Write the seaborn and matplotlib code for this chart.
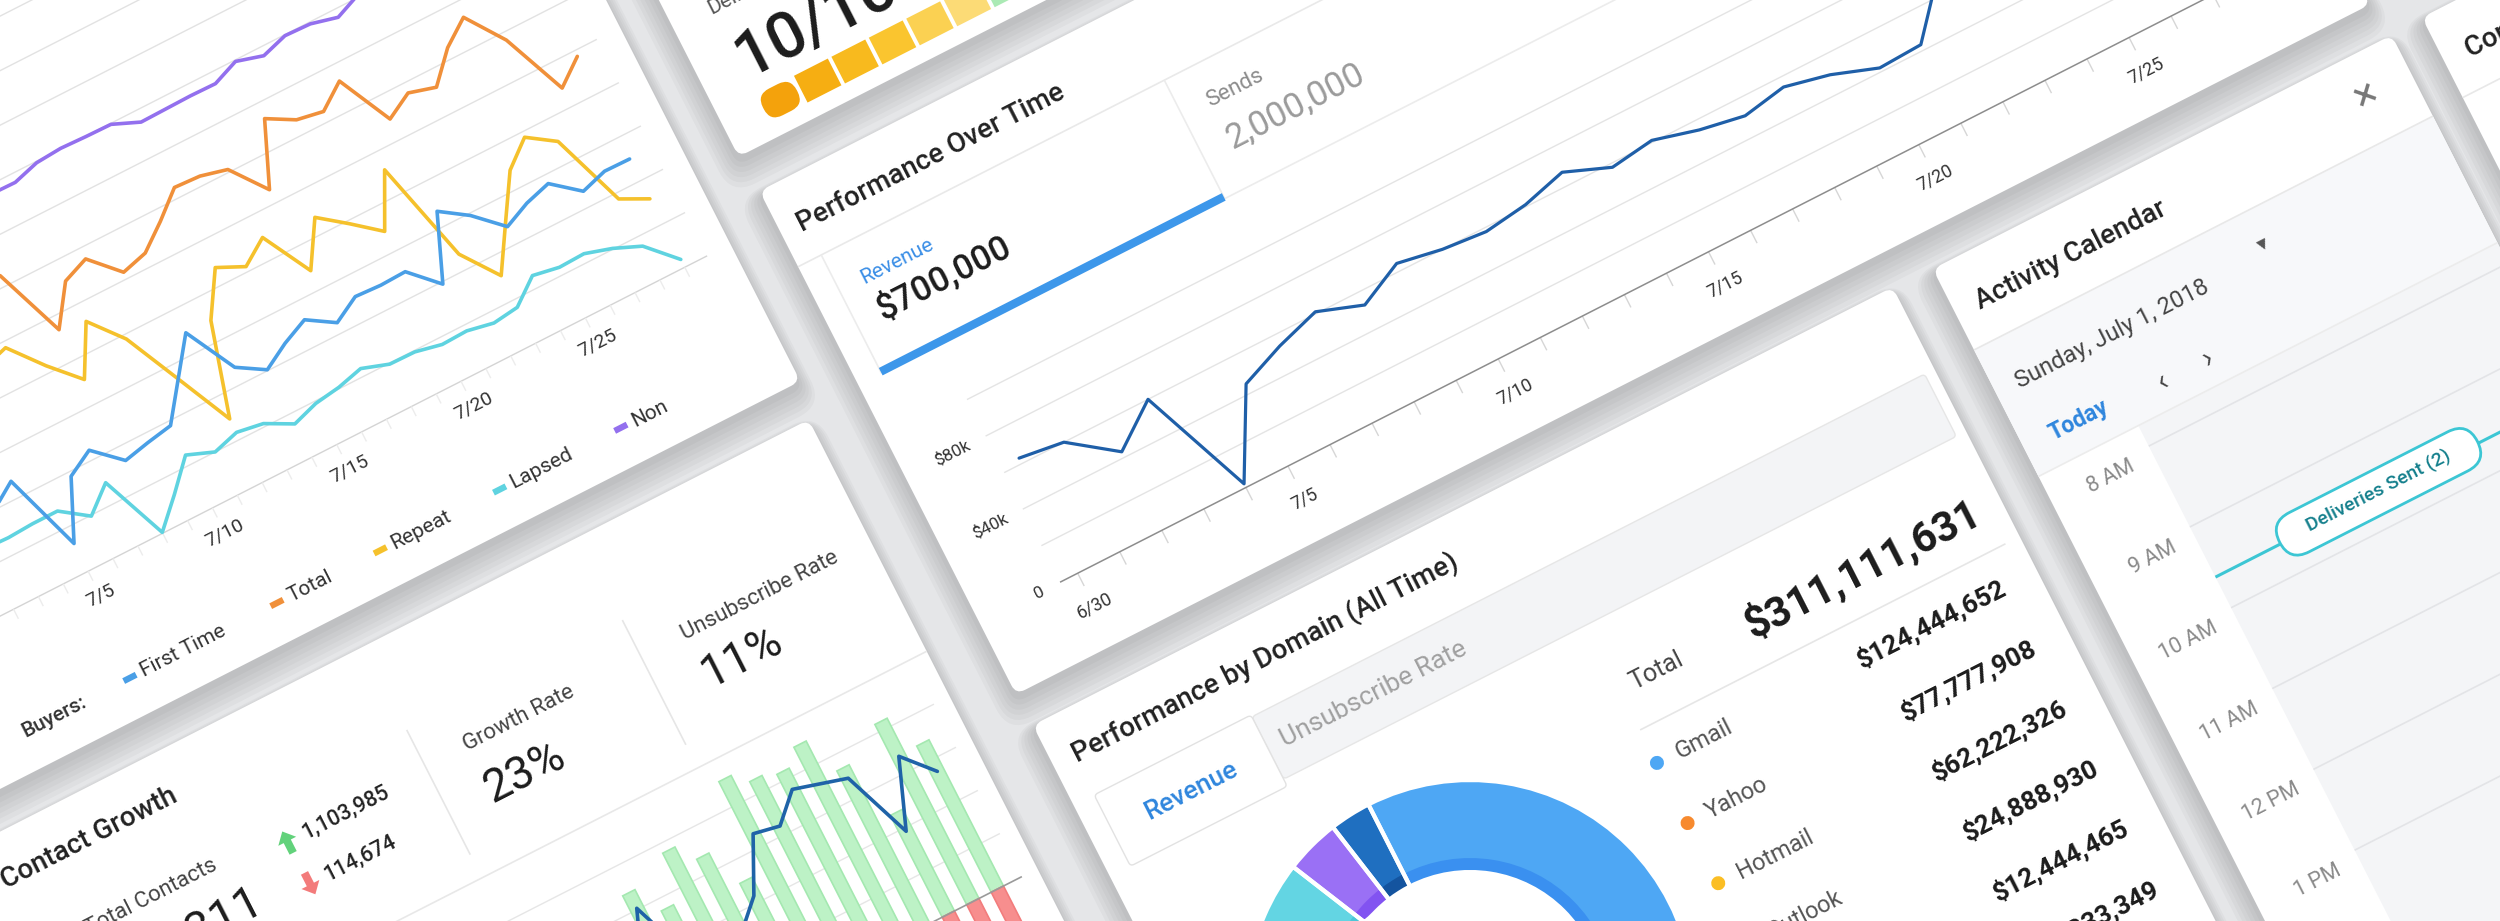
import numpy as np
import pandas as pd
import matplotlib
matplotlib.use("Agg")
import matplotlib.pyplot as plt
import seaborn as sns
from matplotlib.transforms import Affine2D
from matplotlib.patches import FancyBboxPatch, Rectangle, Polygon, Circle

# ---------------- data ----------------
buyer_days = list(range(30))          # 0 = 6/30 ... 29 = 7/29
buyers_first_time = [210, 180, 230, 200, 237, 64, 190, 221, 168, 180, 190, 268, 346, 237, 202,
                     234, 259, 223, 254, 251, 253, 195, 334, 295, 240, 265, 281, 234, 251, 250]
buyers_total = [560, 600, 540, 590, 620, 580, 650, 624, 470, 553, 575, 515, 530, 574, 623,
                620, 606, 530, 665, 633, 623, 664, 547, 578, 562, 624, 665, 583, 443, 487]
buyers_repeat = [380, 420, 360, 440, 400, 470, 487, 416, 355, 460, 390, 269, 147, 345, 438,
                 411, 449, 343, 437, 393, 346, 459, 235, 156, 249, 341, 388, 349, 187, 158]
buyers_lapsed = [120, 130, 138, 136, 139, 139, 98, 146, 2, 60, 122, 100, 116, 107, 77,
                 95, 103, 117, 98, 97, 85, 87, 76, 83, 127, 117, 119, 102, 78, 18]
buyers_non = [790, 785, 795, 800, 788, 792, 786, 790, 782, 781, 797, 801, 799, 798, 774,
              775, 776, 775, 797, 781, 798, 796, 782, 805, 815, 820, 830, 835, 840, 845]
buyer_ticks = [5, 10, 15, 20, 25]
buyer_tick_labels = ["7/5", "7/10", "7/15", "7/20", "7/25"]
buyer_segments = ["First Time", "Total", "Repeat", "Lapsed", "Non"]
buyer_colors = ["#4a9fe6", "#f0903a", "#f5c12c", "#5fd3e0", "#9370ee"]

growth_idx = list(range(-19, 13))
growth_added = [260, 300, 240, 320, 280, 310, 250, 290, 330, 270, 300, 240, 310, 280, 260, 300,
                250, 280, 250, 339, 275, 380, 337, 252, 459, 430, 418, 452, 368, 236, 418, 339]
growth_removed = [-80, -60, -100, -70, -90, -110, -60, -80, -120, -70, -90, -60, -100, -80, -70, -110,
                  -90, -60, -80, -70, -100, -90, -60, -80, -110, -70, -90, -100, -80, -90, -120, -100]
growth_net = [150, 180, 140, 200, 170, 190, 150, 160, 210, 170, 180, 140, 190, 160, 150, 180,
              140, 170, 160, 303, 150, 120, 160, 216, 331, 320, 376, 360, 344, 192, 337, 273]

perf_days = list(range(29))           # 0 = 6/30
perf_revenue = [63, 60, 43, 60, 2, 45, 54, 61, 53, 64, 60, 58, 61, 67, 58, 61, 55, 51, 55, 50,
                42, 43, 70, 76, 80, 85, 88, 92, 96]      # $k
perf_ticks = [0, 5, 10, 15, 20, 25]
perf_tick_labels = ["6/30", "7/5", "7/10", "7/15", "7/20", "7/25"]
perf_yticks = [0, 40, 80]
perf_ytick_labels = ["0", "$40k", "$80k"]

domain_names = ["Gmail", "Yahoo", "Hotmail", "Outlook", "AOL", "Other"]
domain_revenue = [124444652, 77777908, 62222326, 24888930, 12444465, 9333349]
domain_colors = ["#4ea7f4", "#f78a2e", "#fbbe24", "#63d5e3", "#9a70f5", "#1f6fc0"]
domain_shades = ["#3a90f0", "#e8751d", "#f1a914", "#4bc6d7", "#8253f1", "#14549f"]

score_colors = ["#f4a20c", "#f6ae12", "#f8ba1e", "#fac52f", "#fbd152",
                "#fcdb76", "#abeab5", "#8fe19e", "#72d789", "#56cd74"]
calendar_hours = ["8 AM", "9 AM", "10 AM", "11 AM", "12 PM", "1 PM"]

# ---------------- canvas ----------------
sns.set_theme(style="white")
plt.rcParams["font.family"] = ["Roboto", "DejaVu Sans"]

W, H = 2500, 921
th = np.deg2rad(27)
c, s = np.cos(th), np.sin(th)

fig = plt.figure(figsize=(W / 100, H / 100), dpi=100, facecolor="#e5e6e8")
ax = fig.add_axes([0, 0, 1, 1])
ax.set_xlim(0, W)
ax.set_ylim(H, 0)

# flat dashboard coords (u right, v down) -> tilted picture coords
flat = Affine2D(np.array([[c, s, 0.0], [-s, c, 0.0], [0.0, 0.0, 1.0]]))


def place(dx=0.0, dy=0.0):
    return flat + Affine2D().translate(dx, dy) + ax.transData


T = place()


def chart(u0, v0, sx, sy):
    return Affine2D().scale(sx, -sy).translate(u0, v0) + T


def card(u0, v0, u1, v1, r=10):
    for i in range(6):
        e = 2 + 3 * i
        ax.add_patch(FancyBboxPatch((u0 - e, v0 - e), u1 - u0 + 2 * e, v1 - v0 + 2 * e,
                                    boxstyle=f"round,pad=0,rounding_size={r + e}",
                                    fc="black", ec="none", alpha=0.026,
                                    transform=place(0, 6 + 2 * i), zorder=0.2))
    p = FancyBboxPatch((u0, v0), u1 - u0, v1 - v0, boxstyle=f"round,pad=0,rounding_size={r}",
                       fc="white", ec="none", transform=T, zorder=0.5)
    ax.add_patch(p)
    return p


def txt(u, v, text, size, color="#222222", weight="normal", ha="left", va="center", tf=None, **kw):
    return ax.text(u, v, text, transform=tf or T, rotation=27, rotation_mode="anchor",
                   fontsize=size, color=color, fontweight=weight, ha=ha, va=va, zorder=6, **kw)


def seg(u0, v0, u1, v1, color="#e6e6e6", lw=1.2, z=1.5, tf=None):
    ax.plot([u0, u1], [v0, v1], color=color, lw=lw, transform=tf or T, zorder=z,
            solid_capstyle="butt")


# ---------------- card 1: buyers ----------------
c1 = card(-900, -600, 540, 703)
tf1 = chart(-320.3, 549, 27.9, 0.486)
for g in range(100, 1200, 100):
    seg(-22, g, 29.9, g, color="#e2e2e2", lw=1.0, tf=tf1)
seg(-22, 0, 29.9, 0, color="#d4d4d4", lw=1.0, tf=tf1)
for d in buyer_days:
    seg(d, 0, d, -22, color="#ececec", lw=1.0, tf=tf1)
for d, lab in zip(buyer_ticks, buyer_tick_labels):
    txt(d, -57, lab, 14, "#333333", ha="center", tf=tf1)

buyers = pd.DataFrame({
    "day": buyer_days * 5,
    "buyers": buyers_first_time + buyers_total + buyers_repeat + buyers_lapsed + buyers_non,
    "segment": np.repeat(buyer_segments, len(buyer_days)),
})
n0 = len(ax.lines)
sns.lineplot(data=buyers, x="day", y="buyers", hue="segment", hue_order=buyer_segments[::-1],
             palette=dict(zip(buyer_segments, buyer_colors)), legend=False, errorbar=None,
             linewidth=2.6, ax=ax, transform=tf1, zorder=3)
for ln in ax.lines[n0:]:
    ln.set_clip_path(c1)

txt(-312, 663, "Buyers:", 15, "#333333", "medium")
for name, col, mu in zip(buyer_segments, buyer_colors, [-192, -27, 89, 223, 359]):
    seg(mu - 7, 663, mu + 7, 663, color=col, lw=4.5, z=6)
    txt(mu + 13, 663, name, 15, "#333333")

# ---------------- card 2: contact growth ----------------
c2 = card(-900, 741, 530, 1800)
txt(-398, 787, "Contact Growth", 20, "#222222", "medium")
txt(-345, 868, "Total Contacts", 16, "#444444")
txt(-345, 918, "989,311", 34, "#1c1c1c")
up = np.array([[0, -12], [10, -1], [4, -1], [4, 12], [-4, 12], [-4, -1], [-10, -1]], float)
ax.add_patch(Polygon(up + [-126, 881], closed=True, fc="#62d27b", ec="none", transform=T, zorder=6))
ax.add_patch(Polygon(up * [1, -1] + [-125, 928], closed=True, fc="#f37b7b", ec="none", transform=T, zorder=6))
txt(-108, 881, "1,103,985", 15.5, "#222222", "medium")
txt(-108, 928, "114,674", 15.5, "#222222", "medium")
seg(31, 835, 31, 975)
seg(273, 835, 273, 975)
txt(75, 876, "Growth Rate", 16, "#444444")
txt(75, 926, "23%", 33, "#1c1c1c")
txt(320, 876, "Unsubscribe Rate", 16, "#444444")
txt(320, 922, "11%", 33, "#1c1c1c")
seg(-900, 1001, 530, 1001, color="#e8e8e8")

tf2 = chart(155, 1245, 27.5, 0.484)
for g in [100, 200, 300, 400]:
    seg(-20, g, 13.0, g, color="#e6e6e6", lw=1.0, tf=tf2)
growth = pd.DataFrame({"idx": growth_idx, "added": growth_added,
                       "removed": growth_removed, "net": growth_net})
np0 = len(ax.patches)
sns.barplot(data=growth, x="idx", y="added", native_scale=True, width=0.5, color="#bdf2c6",
            saturation=1, errorbar=None, edgecolor="#a4e8b0", linewidth=1.2,
            ax=ax, transform=tf2, zorder=2)
sns.barplot(data=growth, x="idx", y="removed", native_scale=True, width=0.5, color="#f78e8e",
            saturation=1, errorbar=None, edgecolor="#f27c7c", linewidth=1.2,
            ax=ax, transform=tf2, zorder=2)
for p in ax.patches[np0:]:
    p.set_clip_path(c2)
seg(-20, 0, 13.0, 0, color="#9a9a9a", lw=1.2, z=4, tf=tf2)
n0 = len(ax.lines)
sns.lineplot(data=growth, x="idx", y="net", color="#1f63a8", linewidth=2.6, errorbar=None,
             ax=ax, transform=tf2, zorder=3)
for ln in ax.lines[n0:]:
    ln.set_clip_path(c2)

# ---------------- card 3: deliverability ----------------
c3 = card(587, -500, 1600, 475)
txt(627, 330, "Deliverability", 15, "#555555")
txt(630, 390, "10/10", 47, "#1c1c1c", "medium")
for i, col in enumerate(score_colors):
    if i == 0:
        ax.add_patch(FancyBboxPatch((631, 428), 38, 30, boxstyle="round,pad=0,rounding_size=14",
                                    fc=col, ec="none", transform=T, zorder=3))
    else:
        ax.add_patch(Rectangle((631 + 42 * i, 428), 38, 30, fc=col, ec="none", transform=T, zorder=3))

# ---------------- card 4: performance over time ----------------
c4 = card(590, 515, 2110, 1080)
txt(609, 563, "Performance Over Time", 20, "#222222", "medium")
seg(590, 600, 2110, 600, color="#e9e9e9")
seg(616, 600, 616, 733, color="#ececec")
seg(1001, 600, 1001, 733, color="#ececec")
seg(1001, 733, 2110, 733, color="#ececec")
txt(641, 645, "Revenue", 15, "#3a8ee6", va="baseline")
txt(641, 686, "$700,000", 25, "#1c1c1c", "medium", va="baseline")
seg(616, 731, 1001, 731, color="#3d97ea", lw=6, z=4)
txt(1030, 645, "Sends", 16, "#8c8c8c", va="baseline")
txt(1030, 692, "2,000,000", 25, "#9b9b9b", va="baseline")

tf4 = chart(700, 1000, 47.2, 2.05)
for g in [20, 40, 60, 80, 100]:
    seg(-0.42, g, 29.5, g, color="#e4e4e4", lw=1.0, tf=tf4)
seg(-0.42, 0, 29.5, 0, color="#8d8d8d", lw=1.1, z=4, tf=tf4)
for d in range(30):
    seg(d, 0, d, -7, color="#d6d6d6", lw=1.0, tf=tf4)
for g, lab in zip(perf_yticks, perf_ytick_labels):
    txt(-0.8, g, lab, 12.5, "#333333", ha="right", tf=tf4)
for d, lab in zip(perf_ticks, perf_tick_labels):
    txt(d, -18, lab, 13, "#333333", ha="center", tf=tf4)
n0 = len(ax.lines)
sns.lineplot(x=perf_days, y=perf_revenue, color="#1f5fa8", linewidth=2.3, errorbar=None,
             ax=ax, transform=tf4, zorder=3)
for ln in ax.lines[n0:]:
    ln.set_clip_path(c4)

# ---------------- card 5: performance by domain ----------------
c5 = card(591, 1115, 1556, 2100)
txt(614, 1160, "Performance by Domain (All Time)", 20, "#222222", "medium")
ax.add_patch(FancyBboxPatch((790, 1207), 755, 70, boxstyle="round,pad=0,rounding_size=4",
                            fc="#f3f4f6", ec="#e6e6e6", lw=1, transform=T, zorder=1))
ax.add_patch(FancyBboxPatch((614, 1205), 176, 80, boxstyle="round,pad=0,rounding_size=4",
                            fc="white", ec="#e2e2e2", lw=1, transform=T, zorder=1.1))
txt(702, 1245, "Revenue", 19, "#2f86dd", "medium", ha="center")
txt(806, 1242, "Unsubscribe Rate", 19, "#a0a0a0")
txt(1143, 1350, "Total", 18, "#444444")
txt(1530, 1352, "$311,111,631", 30, "#1c1c1c", "bold", ha="right")
seg(1130, 1395, 1540, 1395, color="#e6e6e6")
for i, (name, val, col) in enumerate(zip(domain_names, domain_revenue, domain_colors)):
    v = 1432 + 67.5 * i
    ax.add_patch(Circle((1130, v), 7, fc=col, ec="none", transform=T, zorder=6))
    txt(1152, v, name, 17, "#555555")
    txt(1520, v, f"${val:,}", 19, "#1c1c1c", "bold", ha="right")

tf5 = Affine2D().scale(1, -1).translate(854, 1562) + T
ax.pie(domain_revenue, radius=224, startangle=90, counterclock=False, colors=domain_colors,
       wedgeprops=dict(width=92, linewidth=0, transform=tf5, zorder=3))
ax.pie(domain_revenue, radius=146, startangle=90, counterclock=False, colors=domain_shades,
       wedgeprops=dict(width=14, linewidth=0, transform=tf5, zorder=3.5))
ax.pie(domain_revenue, radius=224, startangle=90, counterclock=False, colors=["none"] * 6,
       wedgeprops=dict(width=92, edgecolor="white", linewidth=3, transform=tf5, zorder=3.8))

# ---------------- card 6: activity calendar ----------------
c6 = card(1600, 1117, 2115, 2300)
txt(1624, 1168, "Activity Calendar", 20, "#222222", "medium")
txt(2064, 1160, "×", 30, "#777777", ha="center")
ax.add_patch(Rectangle((1600, 1208), 515, 142, fc="#f7f8fa", ec="none", transform=T, zorder=1))
seg(1600, 1208, 2115, 1208, color="#e8e8e8")
txt(1623, 1256, "Sunday, July 1, 2018", 17, "#444444")
txt(1905, 1246, "▾", 15, "#555555", ha="center")
txt(1630, 1318, "Today", 16.5, "#2f86dd", "bold")
txt(1754, 1322, "‹", 21, "#444444", ha="center")
txt(1804, 1322, "›", 21, "#444444", ha="center")
seg(1600, 1350, 2115, 1350, color="#ececec")
ax.add_patch(Rectangle((1712, 1350), 403, 950, fc="#f4f5f7", ec="none", transform=T, zorder=1))
for i, lab in enumerate(calendar_hours):
    v = 1383 + 90.7 * i
    txt(1690, v, lab, 15.5, "#8a8a8a", ha="right")
    seg(1712, v - 10, 2115, v - 10, color="#e3e4e7")
seg(1712, 1520, 2115, 1520, color="#3cc6d4", lw=2.2, z=4)
ax.add_patch(FancyBboxPatch((1785, 1496), 222, 44, boxstyle="round,pad=0,rounding_size=22",
                            fc="white", ec="#3cc6d4", lw=2, transform=T, zorder=5))
txt(1896, 1518, "Deliveries Sent (2)", 14, "#15808d", "medium", ha="center")

# ---------------- card 7: partial ----------------
c7 = card(2150, 1115, 2800, 2400)
txt(2175, 1165, "Contact Activity", 20, "#222222", "medium")
seg(2150, 1205, 2800, 1205, color="#e8e8e8")

ax.set_xlim(0, W)
ax.set_ylim(H, 0)
ax.set_aspect("auto")
ax.axis("off")
fig.savefig("out.png", dpi=100, facecolor=fig.get_facecolor())
